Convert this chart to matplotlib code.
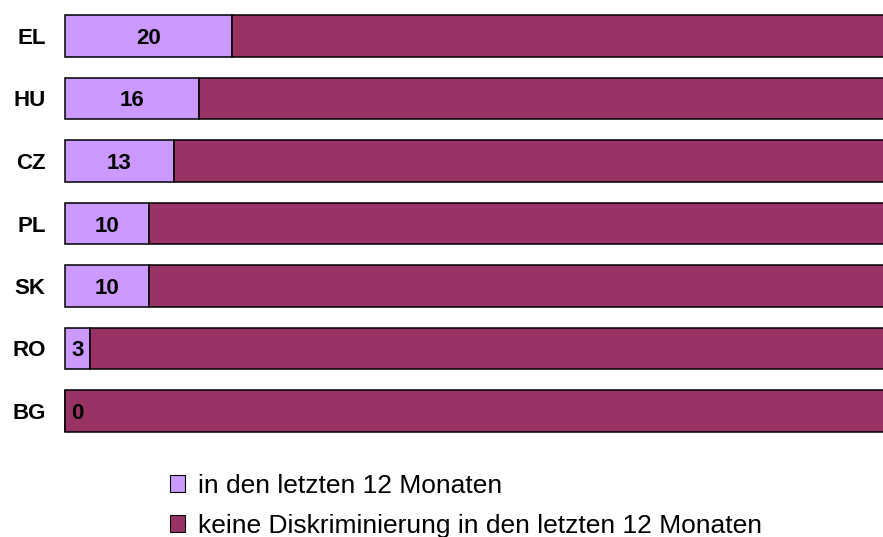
import matplotlib.pyplot as plt
from matplotlib.patches import Patch

# ---------- data ----------
countries = ["EL", "HU", "CZ", "PL", "SK", "RO", "BG"]
last_12 = [20, 16, 13, 10, 10, 3, 0]
no_discr = [80, 84, 87, 90, 90, 97, 100]

LABEL_LAST = "in den letzten 12 Monaten"
LABEL_NONE = "keine Diskriminierung in den letzten 12 Monaten"

C_LAST = "#CC99FF"
C_NONE = "#993366"

W, H = 883, 537
plt.rcParams["font.family"] = ["Liberation Sans", "DejaVu Sans"]

fig = plt.figure(figsize=(W / 100, H / 100), dpi=100)
# axes spans from the bar start (x=65px) to the right edge, bars run off the picture
ax = fig.add_axes([65 / W, (H - 440) / H, (W - 65) / W, 440 / H])

ypos = list(range(len(countries)))
ax.barh(ypos, last_12, height=0.67, color=C_LAST, edgecolor="black",
        linewidth=1.1, clip_on=False)
ax.barh(ypos, no_discr, left=last_12, height=0.67, color=C_NONE,
        edgecolor="black", linewidth=1.1, clip_on=False)

for y, v in zip(ypos, last_12):
    ax.text(max(v, 3) / 2, y, str(v), ha="center", va="center_baseline",
            fontsize=16, fontweight="bold", color="black")

ax.set_xlim(0, (W - 65) / 8.35)
ax.set_ylim(6.464, -0.576)
ax.set_yticks(ypos)
ax.set_yticklabels(countries, fontsize=16, fontweight="bold",
                   va="center_baseline")
ax.tick_params(axis="y", length=0, pad=14)
ax.set_xticks([])
for s in ax.spines.values():
    s.set_visible(False)

handles = [Patch(facecolor=C_LAST, edgecolor="black", linewidth=0.8),
           Patch(facecolor=C_NONE, edgecolor="black", linewidth=0.8)]
fig.legend(handles, [LABEL_LAST, LABEL_NONE], loc="upper left",
           bbox_to_anchor=(170 / W, 1 - 474 / H), frameon=False,
           fontsize=19, handlelength=0.58, handleheight=0.58,
           handletextpad=0.5, labelspacing=0.6, borderaxespad=0,
           borderpad=0)

fig.savefig("out.png", dpi=100)
